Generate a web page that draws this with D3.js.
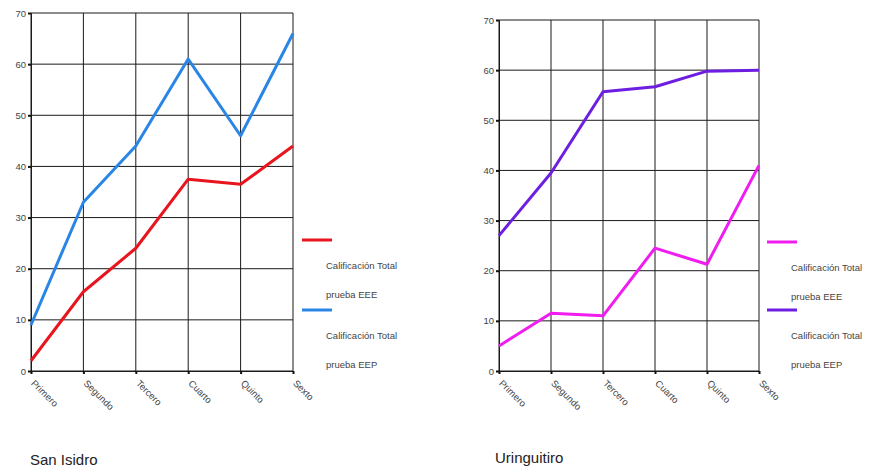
<!DOCTYPE html>
<html><head><meta charset="utf-8">
<script src="https://cdn.jsdelivr.net/npm/d3@7"></script>
<style>
body{margin:0;background:#fff;}
svg{display:block;font-family:"Liberation Sans",Arial,sans-serif;}
</style></head><body>
<svg id="c" width="888" height="472"></svg>
<script>
const categories = ["Primero","Segundo","Tercero","Cuarto","Quinto","Sexto"];
const yTicks = [0,10,20,30,40,50,60,70];
const seriesNames = ["Calificación Total prueba EEE","Calificación Total prueba EEP"];
const sanIsidroEEE = [2, 15.5, 24, 37.5, 36.5, 44];
const sanIsidroEEP = [9, 33, 44, 61, 46, 66];
const uringuitiroEEE = [5, 11.5, 11, 24.5, 21.3, 41];
const uringuitiroEEP = [27, 39.5, 55.7, 56.7, 59.8, 60];

const panels = [
  {title:"San Isidro", data:[sanIsidroEEE, sanIsidroEEP], colors:["#e8141e","#2a86e6"],
   x0:31, x1:293, yTop:13, yBot:371, legX:302, legY:[240,310], titleX:30, titleY:465},
  {title:"Uringuitiro", data:[uringuitiroEEE, uringuitiroEEP], colors:["#f01cf0","#6d1ee0"],
   x0:499, x1:759, yTop:20, yBot:371, legX:767, legY:[242,310], titleX:495, titleY:463}
];

const svg = d3.select("#c");

panels.forEach(p => {
  const g = svg.append("g");
  const x = d3.scalePoint().domain(categories).range([p.x0, p.x1]);
  const y = d3.scaleLinear().domain([0,70]).range([p.yBot, p.yTop]);

  // grid
  g.append("g").selectAll("line.h").data(yTicks).join("line")
    .attr("x1", p.x0).attr("x2", p.x1)
    .attr("y1", d => y(d)).attr("y2", d => y(d))
    .attr("stroke", "#1a1a1a").attr("stroke-width", 1);
  g.append("g").selectAll("line.v").data(categories).join("line")
    .attr("x1", d => x(d)).attr("x2", d => x(d))
    .attr("y1", p.yTop).attr("y2", p.yBot)
    .attr("stroke", "#1a1a1a").attr("stroke-width", 1);

  // y axis
  const ya = g.append("g").attr("transform", `translate(${p.x0},0)`)
    .call(d3.axisLeft(y).tickValues(yTicks).tickSize(3).tickPadding(2));
  ya.select(".domain").attr("stroke", "#1a1a1a");
  ya.selectAll(".tick line").attr("stroke", "#111").attr("stroke-width", 2);
  ya.selectAll("text").attr("font-size", 9.5).attr("fill", "#444")
    .attr("font-family", "Liberation Sans, Arial, sans-serif");

  // x axis
  const xa = g.append("g").attr("transform", `translate(0,${p.yBot})`)
    .call(d3.axisBottom(x).tickSize(3).tickPadding(2));
  xa.select(".domain").attr("stroke", "#1a1a1a");
  xa.selectAll(".tick line").attr("stroke", "#111").attr("stroke-width", 2);
  xa.selectAll("text").attr("font-size", 9.5).attr("fill", "#444")
    .attr("font-family", "Liberation Sans, Arial, sans-serif")
    .attr("text-anchor", "start").attr("dy", "0.35em")
    .attr("transform", "translate(5,7) rotate(45)");

  // lines
  const line = d3.line().x((d,i) => x(categories[i])).y(d => y(d));
  p.data.forEach((vals, k) => {
    g.append("path").datum(vals).attr("d", line)
      .attr("fill", "none").attr("stroke", p.colors[k])
      .attr("stroke-width", 3).attr("stroke-linejoin", "round");
  });

  // legend
  p.data.forEach((vals, k) => {
    const ly = p.legY[k];
    g.append("line").attr("x1", p.legX).attr("x2", p.legX + 30)
      .attr("y1", ly).attr("y2", ly)
      .attr("stroke", p.colors[k]).attr("stroke-width", 3);
    const parts = ["Calificación Total", seriesNames[k].replace("Calificación Total ", "")];
    parts.forEach((t, j) => {
      g.append("text").attr("x", p.legX + 24).attr("y", ly + 29 + j*29)
        .attr("font-size", 9.5).attr("fill", "#444").text(t);
    });
  });

  g.append("text").attr("x", p.titleX).attr("y", p.titleY)
    .attr("font-size", 15).attr("fill", "#222").text(p.title);
});
</script>
</body></html>
